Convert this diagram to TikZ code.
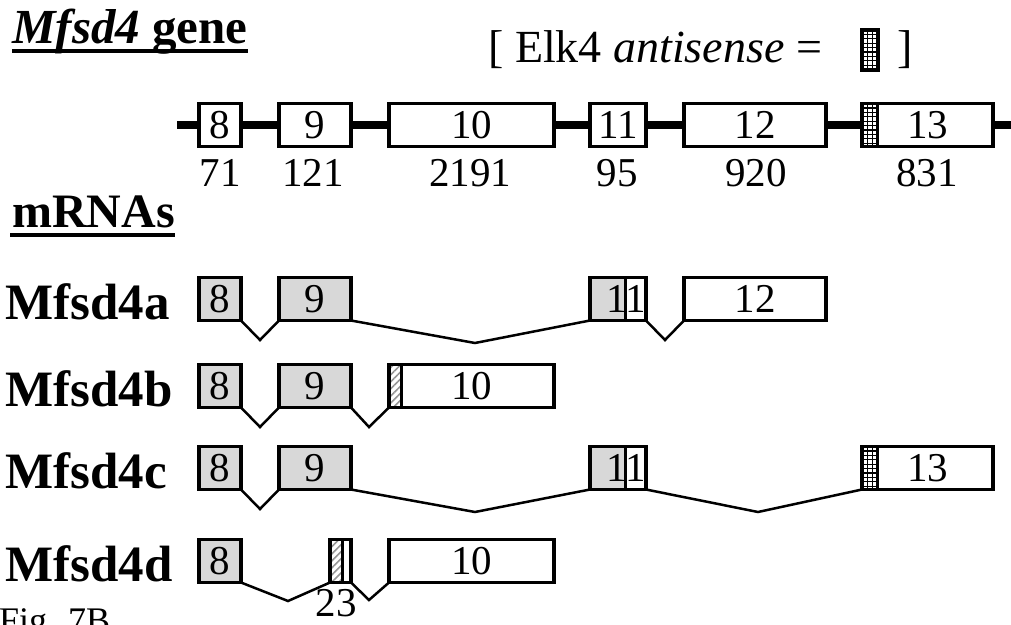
\documentclass[tikz,border=0pt]{standalone}
\usepackage{fontspec}
\setmainfont{Liberation Serif}
\usetikzlibrary{patterns,patterns.meta,calc}
\definecolor{exongray}{RGB}{216,216,216}
\definecolor{hatchgray}{RGB}{150,150,150}
\newcommand{\numfont}{\fontsize{41}{49}\selectfont}
\newcommand{\rowfont}{\fontsize{51}{61}\selectfont\bfseries}
\begin{document}
\begin{tikzpicture}[x=1pt,y=-1pt,
  exon/.style={draw, line width=3.5pt, minimum height=43pt, inner sep=0pt,
    outer sep=0pt, font=\numfont, fill=white},
  coding/.style={exon, fill=exongray},
  intron/.style={line width=2.5pt, line join=miter},
  backbone/.style={line width=8pt},
  rowlabel/.style={anchor=base west, font=\rowfont, inner sep=0pt},
  sizelabel/.style={font=\numfont, inner sep=0pt},
  heading/.style={anchor=base west, inner sep=0pt, font=#1},
  rule/.style={line width=4pt},
  % exon split into a grey (coding) part on the left and a white part
  splitfill/.style={path picture={
    \fill[exongray] (path picture bounding box.north west) rectangle
      ($(path picture bounding box.south west)+(#1,0)$);
    \draw[line width=3pt] ($(path picture bounding box.north west)+(#1,0)$)
      -- ($(path picture bounding box.south west)+(#1,0)$);}},
  % checkered strip marking the Elk4 antisense overlap
  gridstrip/.style={path picture={
    \foreach \k in {1,...,10}{
      \draw[line width=1.2pt] ($(path picture bounding box.north west)+(0,\k*4.4)$)
        -- ($(path picture bounding box.north west)+(#1,\k*4.4)$);}
    \foreach \k in {5.6,10.6}{
      \draw[line width=1.2pt] ($(path picture bounding box.north west)+(\k,0)$)
        -- ($(path picture bounding box.south west)+(\k,0)$);}
    \draw[line width=3pt] ($(path picture bounding box.north west)+(#1,0)$)
      -- ($(path picture bounding box.south west)+(#1,0)$);}},
  % diagonally hatched strip at the start of an exon
  hatchstrip/.style={path picture={
    \fill[pattern={Lines[angle=45, distance=5pt, line width=1.6pt]},
      pattern color=hatchgray]
      (path picture bounding box.north west) rectangle
      ($(path picture bounding box.south west)+(#1,0)$);
    \draw[line width=3pt] ($(path picture bounding box.north west)+(#1,0)$)
      -- ($(path picture bounding box.south west)+(#1,0)$);}}
]
\useasboundingbox (0,0) rectangle (1011,624);

% ---------- headings ----------
\node[heading=\fontsize{49}{59}\selectfont\bfseries] (title) at (12,43)
  {\textit{Mfsd4} gene};
\draw[rule] ([yshift=-8pt]title.base west) -- ([yshift=-8pt]title.base east);

\node[heading=\fontsize{46}{55}\selectfont] (legend) at (488,62)
  {[ Elk4 \textit{antisense} =};
\node[exon, minimum width=16pt, minimum height=40pt, gridstrip=16] (key) at (870,50) {};
\node[heading=\fontsize{46}{55}\selectfont] (close) at (897,62) {]};

\node[heading=\fontsize{48}{58}\selectfont\bfseries] (mrnas) at (12,227) {mRNAs};
\draw[rule] ([xshift=-2pt,yshift=-7.5pt]mrnas.base west)
  -- ([yshift=-7.5pt]mrnas.base east);

% ---------- gene structure ----------
\coordinate (gstart) at (177,125);
\coordinate (gend) at (1011,125);
\draw[backbone] (gstart) -- (gend);

\node[exon, minimum width=42pt]  (g8)  at (220,125)   {8};
\node[exon, minimum width=72pt]  (g9)  at (315,125)   {9};
\node[exon, minimum width=165pt] (g10) at (471.5,125) {10};
\node[exon, minimum width=56pt]  (g11) at (618,125)   {11};
\node[exon, minimum width=142pt] (g12) at (755,125)   {12};
\node[exon, minimum width=131pt, gridstrip=15] (g13) at (927.5,125) {13};

\node[sizelabel] (s8)  at (220,173) {71};
\node[sizelabel] (s9)  at (313,173) {121};
\node[sizelabel] (s10) at (470,173) {2191};
\node[sizelabel] (s11) at (617,173) {95};
\node[sizelabel] (s12) at (756,173) {920};
\node[sizelabel] (s13) at (927,173) {831};

% ---------- Mfsd4a ----------
\node[rowlabel] (la) at (5,319) {Mfsd4a};
\node[coding, minimum width=42pt] (a8) at (220,299) {8};
\node[coding, minimum width=72pt] (a9) at (315,299) {9};
\node[exon, minimum width=56pt, splitfill=35] (a11) at (618,299)
  {\makebox[0pt]{\hspace{16pt}11}};
\node[exon, minimum width=142pt] (a12) at (755,299) {12};
\coordinate (av1) at (260,340);
\coordinate (av2) at (475,343);
\coordinate (av3) at (665,340);
\draw[intron] (a8.south east) -- (av1) -- (a9.south west);
\draw[intron] (a9.south east) -- (av2) -- (a11.south west);
\draw[intron] (a11.south east) -- (av3) -- (a12.south west);

% ---------- Mfsd4b ----------
\node[rowlabel] (lb) at (5,406) {Mfsd4b};
\node[coding, minimum width=42pt] (b8) at (220,386) {8};
\node[coding, minimum width=72pt] (b9) at (315,386) {9};
\node[exon, minimum width=165pt, hatchstrip=12] (b10) at (471.5,386) {10};
\coordinate (bv1) at (260,427);
\coordinate (bv2) at (369,427);
\draw[intron] (b8.south east) -- (bv1) -- (b9.south west);
\draw[intron] (b9.south east) -- (bv2) -- (b10.south west);

% ---------- Mfsd4c ----------
\node[rowlabel] (lc) at (5,488) {Mfsd4c};
\node[coding, minimum width=42pt] (c8) at (220,468) {8};
\node[coding, minimum width=72pt] (c9) at (315,468) {9};
\node[exon, minimum width=56pt, splitfill=35] (c11) at (618,468)
  {\makebox[0pt]{\hspace{16pt}11}};
\node[exon, minimum width=131pt, gridstrip=15] (c13) at (927.5,468) {13};
\coordinate (cv1) at (260,509);
\coordinate (cv2) at (475,512);
\coordinate (cv3) at (758,512);
\draw[intron] (c8.south east) -- (cv1) -- (c9.south west);
\draw[intron] (c9.south east) -- (cv2) -- (c11.south west);
\draw[intron] (c11.south east) -- (cv3) -- (c13.south west);

% ---------- Mfsd4d ----------
\node[rowlabel] (ld) at (5,581) {Mfsd4d};
\node[coding, minimum width=42pt] (d8) at (220,561) {8};
\node[exon, minimum width=21pt, hatchstrip=12] (d23) at (340.5,561) {};
\node[exon, minimum width=165pt] (d10) at (471.5,561) {10};
\node[sizelabel] (s23) at (336,603) {23};
\coordinate (dv1) at (288,601);
\coordinate (dv2) at (369,600);
\draw[intron] (d8.south east) -- (dv1) -- (d23.south west);
\draw[intron] (d23.south east) -- (dv2) -- (d10.south west);

% ---------- figure tag ----------
\node[heading=\fontsize{36}{43}\selectfont] (fig) at (-1,632) {Fig. 7B};
\end{tikzpicture}
\end{document}
